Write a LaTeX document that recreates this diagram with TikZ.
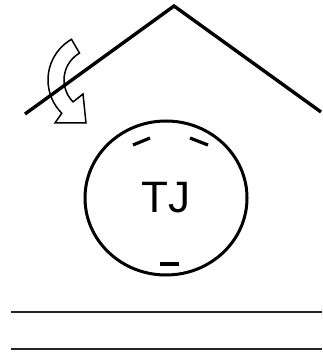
\documentclass[tikz,border=0pt]{standalone}
\usepackage{fontspec}
\setmainfont{Liberation Sans}
\usetikzlibrary{shapes.geometric}
\begin{document}
\begin{tikzpicture}[
    x=1pt, y=-1pt,
    roof/.style={line width=3.4pt, draw=black},
    face/.style={
        ellipse, draw=black, line width=3pt,
        minimum width=162pt, minimum height=154pt, inner sep=0pt,
        font=\fontsize{44}{44}\selectfont
    },
    facemark/.style={line width=3.2pt, draw=black},
    bendarrow/.style={draw=black, line width=1.5pt, fill=white, line join=miter},
    writeline/.style={line width=1.8pt, draw=black!85},
]
\useasboundingbox (0,0) rectangle (322,352);

% ── Curved arrow (hollow) ───────────────────────────────────
\coordinate (ac) at (95,80);
\draw[bendarrow] ([shift={(240:47)}]ac) arc[start angle=240, end angle=135, radius=47]
    -- (55,123) -- (86,123) -- (83,94)
    -- ([shift={(135:31)}]ac) arc[start angle=135, end angle=240, radius=31] -- cycle;

% ── Roof ────────────────────────────────────────────────────
\coordinate (eaveL) at (25,114);
\coordinate (apex)  at (174,6);
\coordinate (eaveR) at (321,112);
\draw[roof] (eaveL) -- (apex) -- (eaveR);

% ── Face ────────────────────────────────────────────────────
\node[face] (head) at (166,198) {TJ};
\draw[facemark] (133,145) -- (150,138);
\draw[facemark] (190,138) -- (208,145);
\draw[facemark] (160,264) -- (179,264);

% ── Writing lines ───────────────────────────────────────────
\coordinate (l1a) at (11,312);
\coordinate (l1b) at (322,312);
\coordinate (l2a) at (11,349);
\coordinate (l2b) at (322,349);
\draw[writeline] (l1a) -- (l1b);
\draw[writeline] (l2a) -- (l2b);

\end{tikzpicture}
\end{document}
